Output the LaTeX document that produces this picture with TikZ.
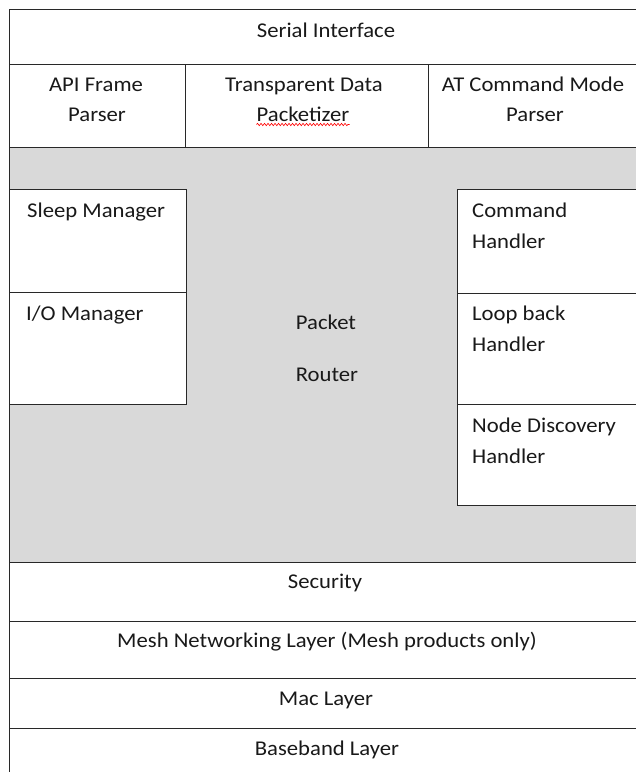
\documentclass[tikz,border=0pt]{standalone}
\usepackage{fontspec}
\setmainfont[FakeStretch=1.08]{Carlito}
\usetikzlibrary{decorations.pathmorphing}

\definecolor{routergray}{RGB}{217,217,217}
\definecolor{edgegray}{RGB}{40,40,40}

\tikzset{
  blk/.style={draw=edgegray, line width=1.2pt, fill=white, rectangle, inner sep=0pt, anchor=north west},
  txt/.style={font=\fontsize{21}{31.5}\selectfont, text=black!90, inner sep=0pt, anchor=base},
  lefttxt/.style={txt, anchor=base west, align=left},
}

\begin{document}
\begin{tikzpicture}[x=1pt,y=-1pt]
\useasboundingbox (0,0) rectangle (636,772);
\clip (0,0) rectangle (636,772);
\fill[white] (0,0) rectangle (636,772);

% SERIAL INTERFACE
\node[blk, minimum width=628.5pt, minimum height=55pt] (serial) at (9,9) {};
\node[txt] (serialtxt) at (326,37) {Serial Interface};

% PARSERS
\node[blk, minimum width=176pt, minimum height=83pt] (api) at (9,64) {};
\node[blk, minimum width=243pt, minimum height=83pt] (transp) at (185,64) {};
\node[blk, minimum width=209.5pt, minimum height=83pt] (atcmd) at (428,64) {};
\node[txt] (apitxt1) at (96,91) {API Frame};
\node[txt] (apitxt2) at (97,121) {Parser};
\node[txt] (transptxt1) at (304,91) {Transparent Data};
\node[txt] (transptxt2) at (303,121) {Packetizer};
\node[txt] (attxt1) at (533,91) {AT Command Mode};
\node[txt] (attxt2) at (535,121) {Parser};
\draw[red, line width=0.6pt, decorate, decoration={snake, amplitude=1.2pt, segment length=3.5pt}]
  ([yshift=-3.5pt]transptxt2.base west) -- ([yshift=-3.5pt]transptxt2.base east);

% PACKET ROUTER
\node[blk, fill=routergray, minimum width=628.5pt, minimum height=415pt] (router) at (9,147) {};
\node[txt] (routertxt1) at (326,329) {Packet};
\node[txt] (routertxt2) at (327,381) {Router};

% MANAGERS
\node[blk, minimum width=177pt, minimum height=103pt] (sleep) at (9,189) {};
\node[blk, minimum width=177pt, minimum height=112pt] (iomgr) at (9,292) {};
\node[lefttxt] (sleeptxt) at (27,217) {Sleep Manager};
\node[lefttxt] (iomgrtxt) at (26,320) {I/O Manager};

% HANDLERS (base = last line)
\node[blk, minimum width=180.5pt, minimum height=104pt] (cmd) at (457,189) {};
\node[blk, minimum width=180.5pt, minimum height=111pt] (loop) at (457,293) {};
\node[blk, minimum width=180.5pt, minimum height=101pt] (disc) at (457,404) {};
\node[lefttxt] (cmdtxt) at (472,248.5) {Command\\Handler};
\node[lefttxt] (looptxt) at (472,351.5) {Loop back\\Handler};
\node[lefttxt] (disctxt) at (472,463.5) {Node Discovery\\Handler};

% LOWER LAYERS
\node[blk, minimum width=628.5pt, minimum height=59pt] (security) at (9,562) {};
\node[blk, minimum width=628.5pt, minimum height=57pt] (mesh) at (9,621) {};
\node[blk, minimum width=628.5pt, minimum height=50pt] (mac) at (9,678) {};
\node[blk, minimum width=628.5pt, minimum height=50pt] (baseband) at (9,728) {};
\node[txt] (securitytxt) at (325,588) {Security};
\node[txt] (meshtxt) at (327,647) {Mesh Networking Layer (Mesh products only)};
\node[txt] (mactxt) at (326,705) {Mac Layer};
\node[txt] (basebandtxt) at (327,755) {Baseband Layer};

\end{tikzpicture}
\end{document}
